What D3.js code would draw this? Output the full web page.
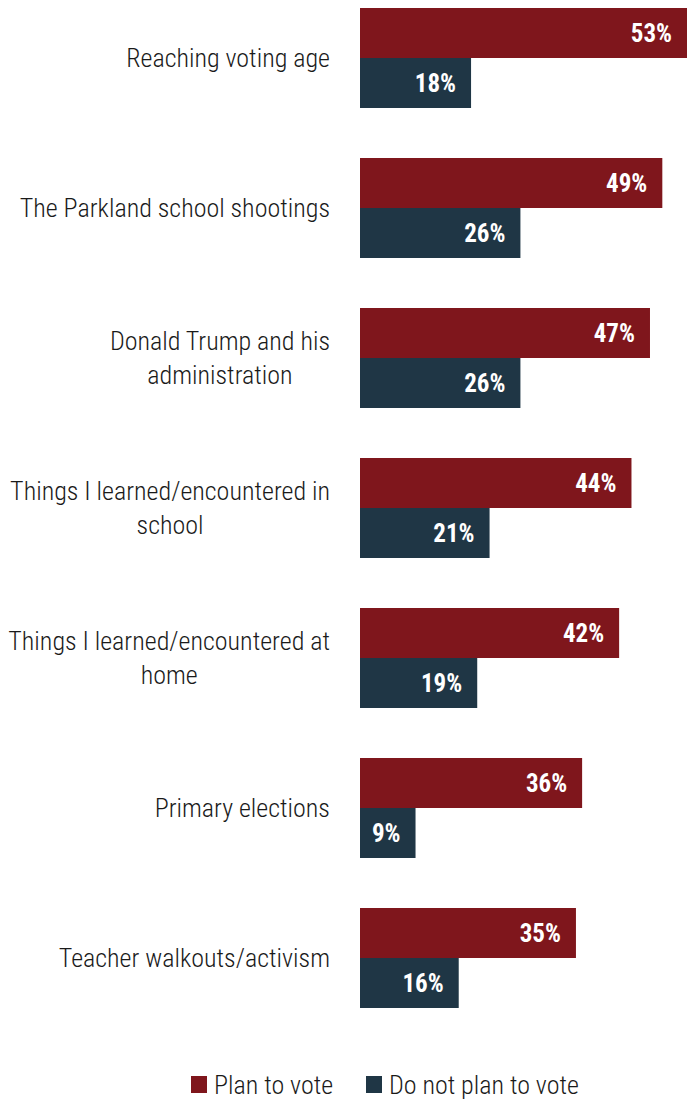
<!DOCTYPE html>
<html>
<head>
<meta charset="utf-8">
<script src="https://cdn.jsdelivr.net/npm/d3@7"></script>
<style>
  body { margin: 0; background: #fff; }
  svg text { font-family: "Roboto Condensed", Roboto, sans-serif; font-stretch: condensed; }
  .cat { font-size: 26px; font-weight: 300; fill: #1a1a1a; }
  .val { font-size: 25px; font-weight: 700; fill: #fff; }
  .leg { font-size: 26px; font-weight: 300; fill: #1a1a1a; }
</style>
</head>
<body>
<svg id="chart" width="687" height="1100"></svg>
<script>
// categories, "|" marks where the label breaks onto a second line
var categories = [
  "Reaching voting age",
  "The Parkland school shootings",
  "Donald Trump and his|administration",
  "Things I learned/encountered in|school",
  "Things I learned/encountered at|home",
  "Primary elections",
  "Teacher walkouts/activism"
];
var planToVote = [53, 49, 47, 44, 42, 36, 35];
var notPlanToVote = [18, 26, 26, 21, 19, 9, 16];
var seriesNames = ["Plan to vote", "Do not plan to vote"];
var seriesColors = ["#7f161c", "#1f3645"];

var svg = d3.select("#chart");
var BAR_LEFT = 360;
var LABEL_RIGHT = 330;
var GROUP = 150;
var BAR_H = 50;

var x = d3.scaleLinear().domain([0, 53]).range([BAR_LEFT, 687]);
var y = d3.scaleBand().domain(categories).range([8, 8 + GROUP * categories.length]).paddingInner(0).paddingOuter(0);
var sub = d3.scaleBand().domain([0, 1]).range([0, BAR_H * 2]);

var rows = categories.map(function (c, i) {
  return {cat: c, vals: [planToVote[i], notPlanToVote[i]]};
});

var g = svg.selectAll("g.row").data(rows).enter().append("g")
    .attr("class", "row")
    .attr("transform", function (d) { return "translate(0," + y(d.cat) + ")"; });

g.each(function (d) {
  var el = d3.select(this);
  d.vals.forEach(function (v, k) {
    el.append("rect")
        .attr("x", x(0))
        .attr("y", sub(k))
        .attr("width", x(v) - x(0))
        .attr("height", sub.bandwidth())
        .style("fill", seriesColors[k]);
    el.append("text")
        .attr("class", "val")
        .attr("x", x(v) - 15)
        .attr("y", sub(k) + sub.bandwidth() / 2)
        .attr("dy", ".36em")
        .attr("text-anchor", "end")
        .text(v + "%");
  });

  // label block is right aligned, its lines centred on each other
  var lines = d.cat.split("|");
  var t = el.append("text")
      .attr("class", "cat")
      .attr("text-anchor", "middle")
      .attr("y", BAR_H);
  var spans = lines.map(function (line, j) {
    return t.append("tspan")
        .attr("dy", j === 0 ? (0.35 - (lines.length - 1) * 0.65) + "em" : "1.3em")
        .text(line);
  });
  var maxW = d3.max(spans, function (s) { return s.node().getComputedTextLength(); });
  spans.forEach(function (s) { s.attr("x", LABEL_RIGHT - maxW / 2); });
});

// legend
var legX = [191, 366];
var leg = svg.selectAll("g.leg").data(seriesNames).enter().append("g")
    .attr("transform", function (d, i) { return "translate(" + legX[i] + ",1076)"; });
leg.append("rect")
    .attr("width", 16)
    .attr("height", 17)
    .style("fill", function (d, i) { return seriesColors[i]; });
leg.append("text")
    .attr("class", "leg")
    .attr("x", 23)
    .attr("y", 9)
    .attr("dy", ".36em")
    .text(function (d) { return d; });
</script>
</body>
</html>
